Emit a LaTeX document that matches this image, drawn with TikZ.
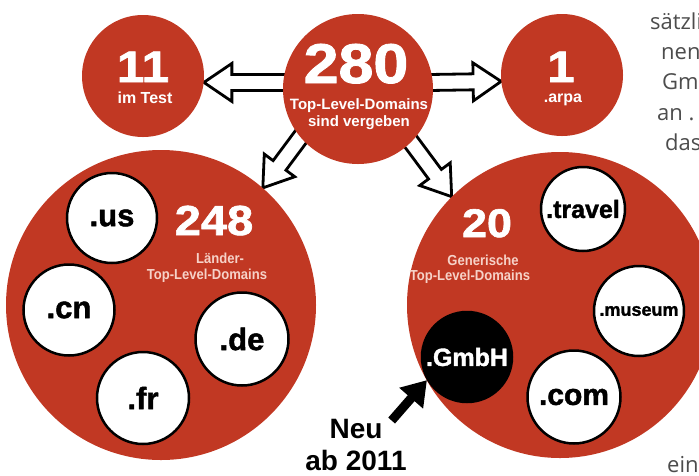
\documentclass[tikz,border=0pt]{standalone}
\usepackage{fontspec}
\setmainfont{Liberation Sans}
\newfontfamily\heavyfont[BoldFeatures={FakeBold=1.5}]{Liberation Sans}
\newfontfamily\pagefont{Open Sans}
\usetikzlibrary{arrows.meta, positioning, calc, backgrounds}

\definecolor{tldred}{RGB}{193,56,35}
\definecolor{tldpink}{RGB}{246,210,200}

\newcommand{\capsqueeze}[1]{\scalebox{0.9}[1]{#1}}

\tikzset{
    bigcircle/.style={circle, fill=tldred, inner sep=0pt},
    tldbox/.style={circle, draw=black, line width=2.5pt, fill=white, inner sep=0pt,
        font=\heavyfont\bfseries\fontsize{31}{31}\selectfont},
    numtext/.style={text=white, inner sep=0pt, anchor=base},
    captext/.style={text=tldpink, inner sep=0pt, anchor=base,
        font=\bfseries\fontsize{14.5}{14.5}\selectfont},
    pagetext/.style={anchor=base west, inner sep=0pt, text=black!70,
        font=\pagefont\fontsize{22}{22}\selectfont},
    hollow arrow/.style={draw=black, line width=2.8pt, fill=white, line join=miter,
        to path={
            ($(\tikztostart)!-12pt!(\tikztotarget)!8pt!90:(\tikztotarget)$)
            -- ($(\tikztotarget)!28pt!(\tikztostart)!8pt!90:(\tikztotarget)$)
            -- ($(\tikztotarget)!28pt!(\tikztostart)!19pt!90:(\tikztotarget)$)
            -- (\tikztotarget)
            -- ($(\tikztotarget)!28pt!(\tikztostart)!19pt!-90:(\tikztotarget)$)
            -- ($(\tikztotarget)!28pt!(\tikztostart)!8pt!-90:(\tikztotarget)$)
            -- ($(\tikztostart)!-12pt!(\tikztotarget)!8pt!-90:(\tikztotarget)$)
            -- cycle}},
    neuarrow/.style={line width=9pt, -{Triangle[length=24pt, width=30pt]}}
}

\begin{document}
\begin{tikzpicture}[x=1pt, y=-1pt]
    \useasboundingbox (0,0) rectangle (699,475);
    \clip (0,0) rectangle (699,475);

    % red circles
    \node[bigcircle, minimum size=122pt] (c11) at (143,76) {};
    \node[bigcircle, minimum size=150pt] (c280) at (358,89) {};
    \node[bigcircle, minimum size=122pt] (c1) at (562,75) {};
    \node[bigcircle, minimum size=310pt] (c248) at (161,305) {};
    \node[bigcircle, minimum size=306pt] (c20) at (560,305) {};

    % numbers and captions
    \node[numtext, font=\heavyfont\bfseries\fontsize{44}{44}\selectfont] (n11) at (143,82) {\scalebox{1.12}[1]{11}};
    \node[captext, text=white, font=\bfseries\fontsize{16}{16}\selectfont] (t11) at (145,103) {im Test};
    \node[numtext, font=\heavyfont\bfseries\fontsize{56}{56}\selectfont] (n280) at (356,83) {\scalebox{1.12}[1]{280}};
    \node[captext, text=white, font=\bfseries\fontsize{15}{15}\selectfont] (t280a) at (359,109) {Top-Level-Domains};
    \node[captext, text=white, font=\bfseries\fontsize{15}{15}\selectfont] (t280b) at (359,126) {sind vergeben};
    \node[numtext, font=\heavyfont\bfseries\fontsize{44}{44}\selectfont] (n1) at (561,82) {\scalebox{1.12}[1]{1}};
    \node[captext, text=white, font=\bfseries\fontsize{16}{16}\selectfont] (t1) at (563,102) {.arpa};
    \node[numtext, font=\heavyfont\bfseries\fontsize{42}{42}\selectfont] (n248) at (214,235) {\scalebox{1.12}[1]{248}};
    \node[captext] (t248a) at (220,263) {\capsqueeze{Länder-}};
    \node[captext] (t248b) at (207,279) {\capsqueeze{Top-Level-Domains}};
    \node[numtext, font=\heavyfont\bfseries\fontsize{40}{40}\selectfont] (n20) at (487,237) {\scalebox{1.12}[1]{20}};
    \node[captext] (t20a) at (483,265) {\capsqueeze{Generische}};
    \node[captext] (t20b) at (470,280) {\capsqueeze{Top-Level-Domains}};

    % country domains
    \node[tldbox, minimum size=90pt] (us) at (112,218) {.us};
    \node[tldbox, minimum size=91pt] (cn) at (69,310) {.cn};
    \node[tldbox, minimum size=93pt] (de) at (242,339) {.de};
    \node[tldbox, minimum size=92pt] (fr) at (143,398) {.fr};

    % generic domains
    \node[tldbox, minimum size=84pt, font=\heavyfont\bfseries\fontsize{25}{25}\selectfont] (travel) at (583,209) {.travel};
    \node[tldbox, minimum size=90pt, font=\heavyfont\bfseries\fontsize{18}{18}\selectfont] (museum) at (639,311) {.museum};
    \node[tldbox, minimum size=90pt, fill=black, text=white, font=\heavyfont\bfseries\fontsize{25}{25}\selectfont] (gmbh) at (467,357) {.GmbH};
    \node[tldbox, minimum size=93pt, font=\heavyfont\bfseries\fontsize{30}{30}\selectfont] (com) at (574,397) {.com};

    % hollow arrows behind the circles
    \begin{scope}[on background layer]
        \draw[hollow arrow] (c280.175) to (c11.354);
        \draw[hollow arrow] (c280.5) to (c1.186);
        \draw[hollow arrow] (c280.220) to (c248.49);
        \draw[hollow arrow] (c280.315) to (c20.135);
    \end{scope}

    % new since 2011
    \node[inner sep=0pt, anchor=base, font=\bfseries\fontsize{28}{28}\selectfont] (neu) at (356,438) {Neu};
    \node[inner sep=0pt, below=12pt of neu, font=\bfseries\fontsize{28}{28}\selectfont] (ab2011) {ab 2011};
    \draw[neuarrow] ($(neu.north east)+(9,2)$) -- (gmbh.210);

    % page text cut at the edge
    \node[pagetext] (p1) at (650,29) {sätzlich};
    \node[pagetext] (p2) at (661,59) {nen};
    \node[pagetext] (p3) at (662,89) {GmbH};
    \node[pagetext] (p4) at (657,120) {an .};
    \node[pagetext] (p5) at (665,150) {das};
    \node[pagetext] (p6) at (667,472) {ein};
\end{tikzpicture}
\end{document}
